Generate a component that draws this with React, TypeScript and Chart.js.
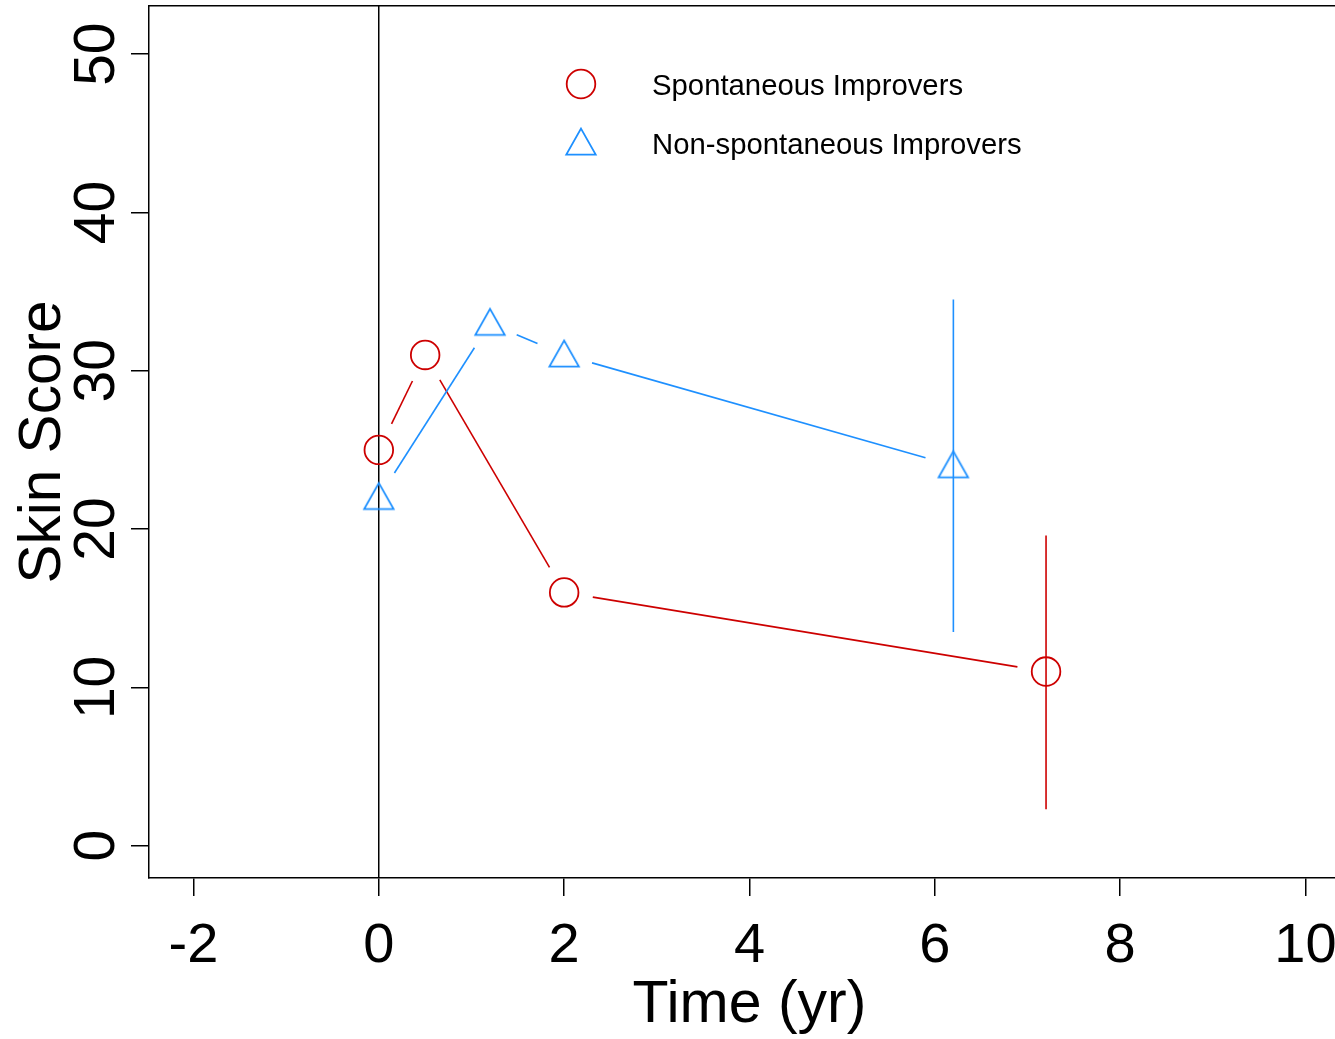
import React, { useEffect, useRef } from 'react';
import { Chart, registerables } from 'chart.js';

Chart.register(...registerables);

// ---- data ----
const seriesLabels = ['Spontaneous Improvers', 'Non-spontaneous Improvers'];
const timeSpont = [0, 0.5, 2, 7.2];
const scoreSpont = [25, 31, 16, 11];
const lowSpont = [null, null, null, 2.3];
const highSpont = [null, null, null, 19.6];
const timeNon = [0, 1.2, 2, 6.2];
const scoreNon = [22, 33, 31, 24];
const lowNon = [null, null, null, 13.5];
const highNon = [null, null, null, 34.5];
const xTickValues = [-2, 0, 2, 4, 6, 8, 10];
const yTickValues = [0, 10, 20, 30, 40, 50];
const xTitle = 'Time (yr)';
const yTitle = 'Skin Score';

const RED = '#CD0000';
const BLUE = '#1E90FF';
const FONT = "'Liberation Sans', Arial, Helvetica, sans-serif";

function makeTriangle(color: string) {
  const c = document.createElement('canvas');
  c.width = 36;
  c.height = 36;
  const g = c.getContext('2d')!;
  g.strokeStyle = color;
  g.lineWidth = 1.8;
  g.beginPath();
  g.moveTo(18, 18 - 14.4);
  g.lineTo(18 + 14.7, 18 + 11.6);
  g.lineTo(18 - 14.7, 18 + 11.6);
  g.closePath();
  g.stroke();
  return c;
}

const GAP = 29;

const zeroPad = (s: any) => {
  s.paddingLeft = 0;
  s.paddingRight = 0;
  s.paddingTop = 0;
  s.paddingBottom = 0;
};

const connectorPlugin = {
  id: 'connectors',
  beforeDatasetsDraw(chart: any) {
    const ctx = chart.ctx;
    const ys = chart.scales.y;
    chart.data.datasets.forEach((ds: any, i: number) => {
      const pts = chart.getDatasetMeta(i).data;
      ctx.save();
      ctx.strokeStyle = ds.borderColor;
      ctx.lineWidth = 1.6;
      for (let j = 0; j < pts.length - 1; j++) {
        const a = pts[j], b = pts[j + 1];
        const dx = b.x - a.x, dy = b.y - a.y;
        const len = Math.hypot(dx, dy);
        if (len <= 2 * GAP) continue;
        const ux = dx / len, uy = dy / len;
        ctx.beginPath();
        ctx.moveTo(a.x + ux * GAP, a.y + uy * GAP);
        ctx.lineTo(b.x - ux * GAP, b.y - uy * GAP);
        ctx.stroke();
      }
      (ds.errLow || []).forEach((lo: number | null, j: number) => {
        const hi = ds.errHigh[j];
        if (lo == null || hi == null) return;
        const x = pts[j].x;
        ctx.beginPath();
        ctx.moveTo(x, ys.getPixelForValue(lo));
        ctx.lineTo(x, ys.getPixelForValue(hi));
        ctx.stroke();
      });
      ctx.restore();
    });
  },
};

const legendPlugin = {
  id: 'rlegend',
  afterDatasetsDraw(chart: any) {
    const ctx = chart.ctx;
    const markerX = 581;
    const textX = 652;
    const rowY = [84, 143];
    ctx.save();
    ctx.font = `29.3px ${FONT}`;
    ctx.textBaseline = 'middle';
    ctx.textAlign = 'left';
    chart.data.datasets.forEach((ds: any, i: number) => {
      const y = rowY[i];
      if (ds.pointStyle === 'circle') {
        ctx.strokeStyle = ds.borderColor;
        ctx.lineWidth = 1.8;
        ctx.beginPath();
        ctx.arc(markerX, y, ds.pointRadius, 0, Math.PI * 2);
        ctx.stroke();
      } else if (ds.pointStyle && ds.pointStyle.width) {
        const img = ds.pointStyle;
        ctx.drawImage(img, markerX - img.width / 2, y - img.height / 2);
      }
      ctx.fillStyle = '#000';
      ctx.fillText(ds.label, textX, y + 3);
    });
    ctx.restore();
  },
};

export default function App() {
  const ref = useRef<HTMLCanvasElement | null>(null);
  useEffect(() => {
    document.body.style.margin = '0';
    const canvas = ref.current!;
    const tri = makeTriangle(BLUE);
    const chart = new Chart(canvas, {
      type: 'scatter',
      data: {
        datasets: [
          {
            label: seriesLabels[0],
            data: timeSpont.map((t, i) => ({ x: t, y: scoreSpont[i] })),
            errLow: lowSpont,
            errHigh: highSpont,
            borderColor: RED,
            backgroundColor: 'rgba(0,0,0,0)',
            pointStyle: 'circle',
            pointRadius: 14.3,
            pointHoverRadius: 14.3,
            pointBorderWidth: 1.8,
            showLine: false,
          } as any,
          {
            label: seriesLabels[1],
            data: timeNon.map((t, i) => ({ x: t, y: scoreNon[i] })),
            errLow: lowNon,
            errHigh: highNon,
            borderColor: BLUE,
            backgroundColor: 'rgba(0,0,0,0)',
            pointStyle: tri,
            pointRadius: 15,
            showLine: false,
          } as any,
        ],
      },
      options: {
        responsive: false,
        animation: false,
        devicePixelRatio: 1,
        events: [],
        layout: { padding: 0, autoPadding: false },
        plugins: {
          legend: { display: false },
          tooltip: { enabled: false },
        },
        scales: {
          x: {
            type: 'linear',
            position: 'bottom',
            min: -2.48,
            max: 10.48,
            afterBuildTicks: (s: any) => {
              s.ticks = xTickValues.map((v) => ({ value: v }));
            },
            afterFit: (s: any) => {
              s.height = 161;
              zeroPad(s);
            },
            ticks: {
              color: '#000',
              font: { family: FONT, size: 56 },
              padding: 17,
              maxRotation: 0,
              autoSkip: false,
              callback: (v: any) => String(v),
            },
            grid: {
              display: true,
              drawOnChartArea: true,
              drawTicks: true,
              tickLength: 18,
              lineWidth: 1.5,
              color: (c: any) => (c.tick && c.tick.value === 0 ? '#000' : 'rgba(0,0,0,0)'),
              tickColor: '#000',
            },
            border: { display: true, color: '#000', width: 1.5 },
            title: {
              display: true,
              text: xTitle,
              color: '#000',
              font: { family: FONT, size: 59, lineHeight: 1.2 },
              padding: { top: 0, bottom: -2 },
            },
          },
          x2: {
            type: 'linear',
            position: 'top',
            min: -2.48,
            max: 10.48,
            afterFit: (s: any) => {
              s.height = 6;
              zeroPad(s);
            },
            ticks: { display: false },
            grid: { display: false, drawTicks: false },
            border: { display: true, color: '#000', width: 1.5 },
          },
          y: {
            type: 'linear',
            position: 'left',
            min: -2.04,
            max: 53.04,
            afterBuildTicks: (s: any) => {
              s.ticks = yTickValues.map((v) => ({ value: v }));
            },
            afterFit: (s: any) => {
              s.width = 149;
              zeroPad(s);
            },
            ticks: {
              color: '#000',
              font: { family: FONT, size: 57 },
              padding: 1,
              minRotation: 90,
              maxRotation: 90,
              crossAlign: 'center',
              autoSkip: false,
              callback: (v: any) => String(v),
            },
            grid: {
              display: true,
              drawOnChartArea: false,
              drawTicks: true,
              tickLength: 18,
              lineWidth: 1.5,
              color: '#000',
            },
            border: { display: true, color: '#000', width: 1.5 },
            title: {
              display: true,
              text: yTitle,
              color: '#000',
              font: { family: FONT, size: 58.5, lineHeight: 1.2 },
              padding: { top: 9, bottom: 0 },
            },
          },
        },
      } as any,
      plugins: [connectorPlugin, legendPlugin],
    });
    return () => chart.destroy();
  }, []);

  return (
    <div style={{ width: 1335, height: 1039, overflow: 'hidden', position: 'relative', background: '#fff' }}>
      <canvas ref={ref} width={1350} height={1039} style={{ display: 'block', width: 1350, height: 1039 }} />
    </div>
  );
}
